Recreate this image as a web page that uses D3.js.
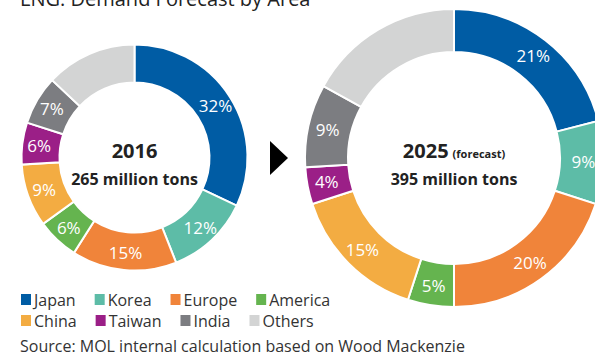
<!DOCTYPE html>
<html>
<head>
<meta charset="utf-8">
<script src="https://cdn.jsdelivr.net/npm/d3@7/dist/d3.min.js"></script>
<style>
  html, body { margin: 0; padding: 0; background: #fff; }
  svg { display: block; font-family: "Open Sans", "Noto Sans", sans-serif; }
</style>
</head>
<body>
<svg id="chart" width="595" height="356"></svg>
<script>
// Regions, in drawing order (clockwise from 12 o'clock)
const areas = ["Japan", "Korea", "Europe", "America", "China", "Taiwan", "India", "Others"];
const areaColors = ["#005ca4", "#5dbca7", "#f0843a", "#65b44f", "#f3ac42", "#9b1f87", "#7c7d81", "#d3d4d4"];

// Share of demand (%) per region
const share2016 = [32, 12, 15, 6, 9, 6, 7, 13];
const share2025 = [21, 9, 20, 5, 15, 4, 9, 17];

// Totals shown in the middle of each ring
const total2016 = "265 million tons";
const total2025 = "395 million tons";
const year2016 = "2016";
const year2025 = "2025";
const forecastNote = "(forecast)";

const titleText = "LNG: Demand Forecast by Area";
const sourceText = "Source: MOL internal calculation based on Wood Mackenzie";

const svg = d3.select("#chart");
const color = d3.scaleOrdinal().domain(areas).range(areaColors);

// Title (sits partly above the top edge)
svg.append("text")
  .attr("x", 20).attr("y", 6)
  .attr("font-size", 20)
  .attr("fill", "#222")
  .text(titleText);

const pie = d3.pie().sort(null).value(d => d.value);

function donut(cx, cy, rOuter, rInner, values, yearLabel, note, totalLabel) {
  const data = areas.map((a, i) => ({ area: a, value: values[i] }));
  const arcs = pie(data);
  const arc = d3.arc().innerRadius(rInner).outerRadius(rOuter);
  const labelArc = d3.arc().innerRadius(rInner + 2).outerRadius(rOuter + 2);

  const g = svg.append("g").attr("transform", `translate(${cx},${cy})`);

  g.selectAll("path.slice")
    .data(arcs)
    .join("path")
    .attr("class", "slice")
    .attr("d", arc)
    .attr("fill", d => color(d.data.area))
    .attr("stroke", "#fff")
    .attr("stroke-width", 2)
    .attr("stroke-linejoin", "miter");

  g.selectAll("text.pct")
    .data(arcs.filter(d => d.data.area !== "Others"))
    .join("text")
    .attr("class", "pct")
    .attr("transform", d => `translate(${labelArc.centroid(d)})`)
    .attr("text-anchor", "middle")
    .attr("dy", "0.36em")
    .attr("font-size", 17)
    .attr("fill", "#fff")
    .text(d => d.data.value + "%");

  const yr = g.append("text")
    .attr("text-anchor", "middle")
    .attr("y", 0)
    .attr("font-weight", "bold")
    .attr("fill", "#222");
  yr.append("tspan").attr("font-size", 20).text(yearLabel);
  if (note) {
    yr.append("tspan").attr("font-size", 11).attr("dx", 4).text(note);
  }

  g.append("text")
    .attr("text-anchor", "middle")
    .attr("y", 27)
    .attr("font-size", 16)
    .attr("font-weight", "bold")
    .attr("fill", "#222")
    .text(totalLabel);
}

donut(134.5, 157.5, 113, 75, share2016, year2016, null, total2016);
donut(454, 158, 149, 106, share2025, year2025, forecastNote, total2025);

// Arrow between the two rings
svg.append("path")
  .attr("d", d3.line()([[270, 141], [270, 175], [288, 158]]) + "Z")
  .attr("fill", "#000");

// Legend: two flowing rows of colour swatches
const legendRows = [areas.slice(0, 4), areas.slice(4)];
const rowY = [306, 327];
legendRows.forEach((row, ri) => {
  let x = 21;
  row.forEach(name => {
    const item = svg.append("g");
    item.append("rect")
      .attr("x", x).attr("y", rowY[ri] - 12)
      .attr("width", 10).attr("height", 11)
      .attr("fill", color(name));
    const t = item.append("text")
      .attr("x", x + 13).attr("y", rowY[ri])
      .attr("font-size", 16)
      .attr("fill", "#333")
      .text(name);
    x += 13 + t.node().getComputedTextLength() + 19;
  });
});

svg.append("text")
  .attr("x", 20).attr("y", 352)
  .attr("font-size", 16)
  .attr("fill", "#333")
  .text(sourceText);
</script>
</body>
</html>
